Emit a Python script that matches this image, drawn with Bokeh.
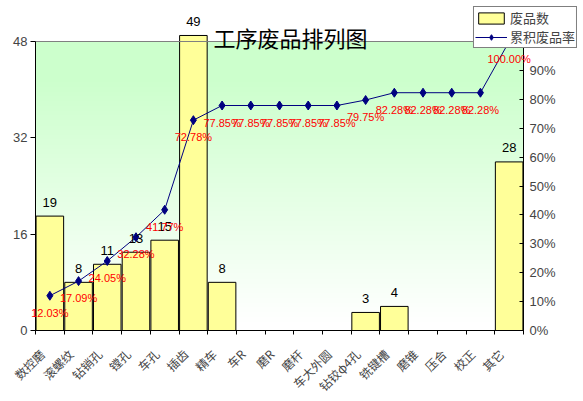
import math
import numpy as np
from bokeh.plotting import figure
from bokeh.models import (Range1d, LinearAxis, FixedTicker, PrintfTickFormatter, ColumnDataSource,
                          LabelSet, Label, Legend, LegendItem)
from bokeh.core.properties import value
from bokeh.embed import file_html
from bokeh.resources import INLINE

categories = ["数控磨", "滚螺纹", "钻销孔", "镗孔", "车孔", "插齿", "精车", "车R", "磨R", "磨杆",
              "车大外圆", "钻铰φ4孔", "铣键槽", "磨锥", "压合", "校正", "其它"]
counts = [19, 8, 11, 13, 15, 49, 8, 0, 0, 0, 0, 3, 4, 0, 0, 0, 28]
cum_pct = [12.03, 17.09, 24.05, 32.28, 41.77, 72.78, 77.85, 77.85, 77.85, 77.85, 77.85,
           79.75, 82.28, 82.28, 82.28, 82.28, 100.00]
left_ticks = [0, 16, 32, 48]
right_ticks = [0, 10, 20, 30, 40, 50, 60, 70, 80, 90, 100]
title_text = "工序废品排列图"
bar_legend = "废品数"
line_legend = "累积废品率"

# ---- layout geometry (pixels) ----
W, H = 583, 401
PL, PR, PT, PB = 35, 523, 41, 330
ncat = len(categories)
xs = list(range(ncat))
ppc = (PR - PL) / ncat
x_start = -0.5 - PL / ppc
x_end = -0.5 + (W - PL) / ppc
ymax = left_ticks[-1]
ppu = (PB - PT) / ymax
y_start = -(H - PB) / ppu
y_end = ymax + PT / ppu
pscale = right_ticks[-1] / ymax

p = figure(x_range=Range1d(x_start, x_end), y_range=Range1d(y_start, y_end),
           width=W, height=H, output_backend="svg", toolbar_location=None,
           x_axis_location=None, y_axis_location=None, min_border=0)
p.min_border_left = p.min_border_right = p.min_border_top = p.min_border_bottom = 0
p.extra_y_ranges = {"pct": Range1d(y_start * pscale, y_end * pscale)}
p.xgrid.visible = False
p.ygrid.visible = False
p.outline_line_color = None
p.background_fill_color = "white"
p.border_fill_color = "white"

# background gradient (green at top fading to white)
n = 256
t = np.linspace(0, 1, n)
f = np.clip((t - 0.03) / 0.85, 0, 1)
img = np.empty((n, 1), dtype=np.uint32)
view = img.view(dtype=np.uint8).reshape((n, 1, 4))
rb = (255 - f * (255 - 204)).astype(np.uint8)
view[:, 0, 0] = rb
view[:, 0, 1] = 255
view[:, 0, 2] = rb
view[:, 0, 3] = 255
p.image_rgba(image=[img], x=-0.5, y=0, dw=ncat, dh=ymax)

src = ColumnDataSource(dict(x=xs, cnt=counts, pct=cum_pct,
                            pct_txt=[f"{v:.2f}%" for v in cum_pct]))
bars = p.vbar(x="x", top="cnt", width=0.96, source=src, fill_color="#FFFF99",
              line_color="black", line_width=1)
line = p.line(x="x", y="pct", source=src, y_range_name="pct", line_color="#000080", line_width=1)
pts = p.scatter(x="x", y="pct", source=src, y_range_name="pct", marker="diamond", size=9,
                fill_color="#000080", line_color="#000080")

nz = [i for i, c in enumerate(counts) if c > 0]
src_nz = ColumnDataSource(dict(x=nz, cnt=[counts[i] for i in nz],
                               txt=[str(counts[i]) for i in nz]))
p.add_layout(LabelSet(x="x", y="cnt", text="txt", source=src_nz, y_offset=14,
                      text_align="center", text_baseline="middle", text_font=value("Liberation Sans"),
                      text_font_size="13px", text_color="black"))
p.add_layout(LabelSet(x="x", y="pct", text="pct_txt", source=src, y_range_name="pct", y_offset=-17,
                      text_align="center", text_baseline="middle", text_font=value("Liberation Sans"),
                      text_font_size="11px", text_color="#FF0000"))

p.add_layout(Label(x=(ncat - 1) / 2, y=ymax, x_offset=11, y_offset=5, text=title_text,
                   text_align="center", text_baseline="middle", text_font="Noto Sans CJK SC",
                   text_font_size="22px", text_color="black"))

# ---- axes ----
la = LinearAxis(fixed_location=-0.5, bounds=(0, ymax), ticker=FixedTicker(ticks=left_ticks))
la.major_tick_out = 5
la.major_tick_in = 0
la.minor_tick_line_color = None
la.major_label_text_font = "Liberation Sans"
la.major_label_text_font_size = "13px"
la.major_label_standoff = 3
p.add_layout(la, "left")

ra = LinearAxis(y_range_name="pct", fixed_location=ncat - 0.5, bounds=(0, right_ticks[-1]),
                ticker=FixedTicker(ticks=right_ticks), formatter=PrintfTickFormatter(format="%d%%"))
ra.major_tick_in = 4
ra.major_tick_out = 0
ra.minor_tick_line_color = None
ra.major_label_text_font = "Liberation Sans"
ra.major_label_text_font_size = "13px"
ra.major_label_standoff = 6
p.add_layout(ra, "right")

# category names (set slightly left of the bar centres, as in the original)
label_pos = [i - 0.28 for i in xs]
ba = LinearAxis(fixed_location=0, bounds=(-0.5, ncat - 0.5), ticker=FixedTicker(ticks=label_pos),
                major_label_overrides={pos: c for pos, c in zip(label_pos, categories)})
ba.major_label_orientation = math.pi / 4
ba.major_label_text_font = "Noto Sans CJK SC"
ba.major_label_text_font_size = "12px"
ba.major_tick_line_color = None
ba.minor_tick_line_color = None
ba.major_label_standoff = 15
p.add_layout(ba, "below")

bt = LinearAxis(fixed_location=0, bounds=(-0.5, ncat - 0.5),
                ticker=FixedTicker(ticks=[i - 0.5 for i in range(ncat + 1)]))
bt.major_label_text_color = None
bt.major_tick_out = 4
bt.major_tick_in = 0
bt.minor_tick_line_color = None
p.add_layout(bt, "below")

ta = LinearAxis(fixed_location=ymax, bounds=(-0.5, ncat - 0.5), ticker=FixedTicker(ticks=[]))
ta.axis_line_color = "#808080"
ta.major_tick_line_color = None
ta.minor_tick_line_color = None
ta.major_label_text_color = None
p.add_layout(ta, "above")

legend = Legend(items=[LegendItem(label=bar_legend, renderers=[bars]),
                       LegendItem(label=line_legend, renderers=[line, pts])],
                location="top_right")
legend.border_line_color = "black"
legend.border_line_width = 1
legend.background_fill_color = "white"
legend.background_fill_alpha = 1
legend.label_text_font = "Noto Sans CJK SC"
legend.label_text_font_size = "13px"
legend.glyph_width = 32
legend.glyph_height = 14
legend.label_height = 14
legend.spacing = 0
legend.padding = 1
legend.margin = 6
legend.label_standoff = 3
p.add_layout(legend)

open("out.html", "w").write(file_html(p, INLINE))
